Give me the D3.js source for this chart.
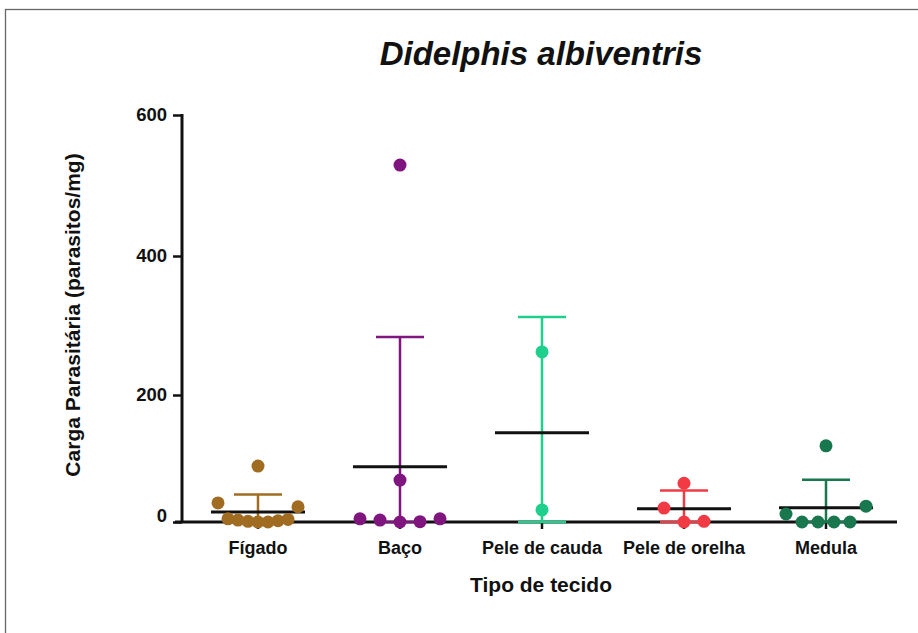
<!DOCTYPE html>
<html>
<head>
<meta charset="utf-8">
<script src="https://cdn.jsdelivr.net/npm/d3@7"></script>
<style>
  body { margin: 0; background: #fff; }
  svg { display: block; }
  text { font-family: "Liberation Sans", Arial, sans-serif; font-weight: bold; fill: #111; }
</style>
</head>
<body>
<svg id="chart" width="918" height="633"></svg>
<script>
// Titles
const chartTitle = "Didelphis albiventris";
const yTitle = "Carga Parasitária (parasitos/mg)";
const xTitle = "Tipo de tecido";

// Tissue groups and their colours
const categories = ["Fígado", "Baço", "Pele de cauda", "Pele de orelha", "Medula"];
const colors = ["#a06c22", "#80157f", "#1fcf8c", "#f23a44", "#18774d"];

// Parasite load per animal (parasitos/mg), one array per tissue
const figado = [88, 30, 24, 0, 0, 1, 2, 3, 4, 5];
const baco = [529, 66, 0, 0.5, 3, 5, 5];
const peleCauda = [262, 19];
const peleOrelha = [61, 22, 0, 1];
const medula = [120, 25, 12.6, 0, 0, 0, 0];
const series = [figado, baco, peleCauda, peleOrelha, medula];

// Y axis ticks
const yTicks = [0, 200, 400, 600];

const svg = d3.select("#chart");
const W = 918, H = 633;

// Frame around the figure
svg.append("rect")
  .attr("x", 5.5).attr("y", 9.5)
  .attr("width", W + 20).attr("height", H + 20)
  .attr("fill", "none").attr("stroke", "#666").attr("stroke-width", 1.3);

const x = d3.scaleBand().domain(categories).range([187, 897]);
const y = d3.scaleLinear().domain([0, 200, 400, 600]).range([522, 395, 256, 115]);
const axisX0 = 182, axisY0 = y(0);

// Y axis
const gy = svg.append("g").attr("transform", `translate(${axisX0},0)`)
  .call(d3.axisLeft(y).tickValues(yTicks).tickSize(9).tickPadding(6).tickFormat(d3.format("d")));
gy.select(".domain").remove();
gy.selectAll(".tick line").attr("stroke", "#111").attr("stroke-width", 2.5);
gy.selectAll(".tick text").attr("font-size", 18.5).attr("fill", "#111");
gy.selectAll(".tick").filter(d => d === 0).select("text").attr("y", -6);
svg.append("line")
  .attr("x1", axisX0).attr("x2", axisX0)
  .attr("y1", y(600) - 1).attr("y2", axisY0)
  .attr("stroke", "#111").attr("stroke-width", 3);

// X axis
const gx = svg.append("g").attr("transform", `translate(0,${axisY0})`)
  .call(d3.axisBottom(x).tickSize(7).tickPadding(12));
gx.select(".domain").remove();
gx.selectAll(".tick line").attr("stroke", "#111").attr("stroke-width", 2.5);
gx.selectAll(".tick text").attr("font-size", 18).attr("fill", "#111");
svg.append("line")
  .attr("x1", axisX0 - 7).attr("x2", 897)
  .attr("y1", axisY0).attr("y2", axisY0)
  .attr("stroke", "#111").attr("stroke-width", 3);

// Scatter layout: points close in height share a row, spread out from the centre
function swarm(values, maxSpan, maxStep, rowPx) {
  const pts = values.map(v => ({ v, py: y(v) })).sort((a, b) => a.v - b.v);
  const rows = [];
  let cur = null;
  for (const p of pts) {
    if (!cur || cur[0].py - p.py > rowPx) { cur = []; rows.push(cur); }
    cur.push(p);
  }
  rows.forEach(row => {
    const n = row.length;
    const step = n > 1 ? Math.min(maxStep, maxSpan / (n - 1)) : 0;
    const slots = [];
    if (n % 2) {
      slots.push(0);
      for (let k = 1; slots.length < n; k++) { slots.push(k * step); slots.push(-k * step); }
    } else {
      for (let k = 0; slots.length < n; k++) { slots.push(-(k + 0.5) * step); slots.push((k + 0.5) * step); }
    }
    row.forEach((p, i) => { p.dx = slots[i]; });
  });
  return pts;
}

const capHalf = 24, meanHalf = 47;

series.forEach((vals, i) => {
  const cx = x(categories[i]) + x.bandwidth() / 2;
  const col = colors[i];
  const m = d3.mean(vals), sd = d3.deviation(vals);
  const hi = m + sd, lo = Math.max(0, m - sd);
  const g = svg.append("g");

  // Error bar (mean ± SD)
  g.append("line").attr("x1", cx).attr("x2", cx).attr("y1", y(lo)).attr("y2", y(hi))
    .attr("stroke", col).attr("stroke-width", 2.5);
  [hi, lo].forEach(v => {
    g.append("line").attr("x1", cx - capHalf).attr("x2", cx + capHalf)
      .attr("y1", y(v)).attr("y2", y(v))
      .attr("stroke", col).attr("stroke-width", 2.5);
  });

  // Mean line
  g.append("line").attr("x1", cx - meanHalf).attr("x2", cx + meanHalf)
    .attr("y1", y(m)).attr("y2", y(m))
    .attr("stroke", "#111").attr("stroke-width", 3);

  // Individual animals
  g.selectAll("circle").data(swarm(vals, 80, 20, 22)).join("circle")
    .attr("cx", d => cx + d.dx).attr("cy", d => d.py)
    .attr("r", 6.5).attr("fill", col);
});

// Titles
svg.append("text").attr("x", 541).attr("y", 65)
  .attr("text-anchor", "middle").attr("font-size", 33).attr("font-style", "italic")
  .text(chartTitle);

svg.append("text").attr("transform", "translate(80,315) rotate(-90)")
  .attr("text-anchor", "middle").attr("font-size", 21)
  .text(yTitle);

svg.append("text").attr("x", 541).attr("y", 592)
  .attr("text-anchor", "middle").attr("font-size", 21)
  .text(xTitle);
</script>
</body>
</html>
